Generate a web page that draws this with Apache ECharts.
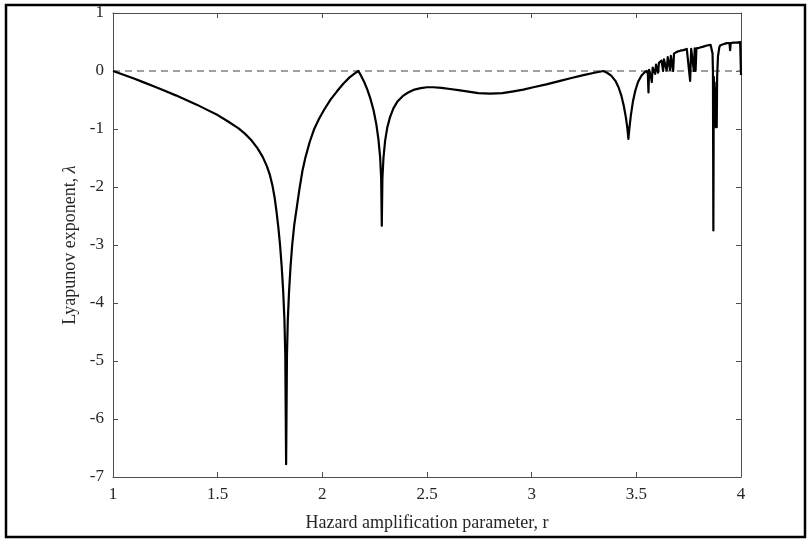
<!DOCTYPE html>
<html>
<head>
<meta charset="utf-8">
<script src="https://cdn.jsdelivr.net/npm/echarts@6/dist/echarts.min.js"></script>
<style>
  html, body { margin: 0; padding: 0; background: #fff; }
  #chart { width: 810px; height: 540px; }
</style>
</head>
<body>
<div id="chart"></div>
<script>
// r values (hazard amplification parameter)
const rVals = [
  1.000, 1.050, 1.100, 1.150, 1.200, 1.250, 1.300, 1.350, 1.400, 1.450,
  1.500, 1.550, 1.600, 1.630, 1.660, 1.690, 1.715, 1.735, 1.750, 1.762,
  1.772, 1.781, 1.790, 1.798, 1.806, 1.813, 1.819, 1.823, 1.827, 1.831,
  1.835, 1.841, 1.848, 1.856, 1.866, 1.878, 1.890, 1.905, 1.920, 1.940,
  1.960, 1.985, 2.010, 2.040, 2.070, 2.100, 2.130, 2.155, 2.172,
  2.185, 2.200, 2.215, 2.230, 2.245, 2.258, 2.268, 2.276, 2.281, 2.284,
  2.287, 2.292, 2.300, 2.310, 2.323, 2.340, 2.360, 2.385, 2.410, 2.440,
  2.470, 2.500, 2.530, 2.570, 2.610, 2.650, 2.690, 2.745, 2.801, 2.860,
  2.913, 2.960, 3.008, 3.070, 3.136, 3.190, 3.247, 3.300, 3.343,
  3.360, 3.380, 3.400, 3.415, 3.428, 3.440, 3.450, 3.457, 3.462, 3.467,
  3.474, 3.484, 3.495, 3.508, 3.524, 3.540, 3.550,
  3.555, 3.558, 3.561, 3.566, 3.570, 3.574, 3.578, 3.585, 3.590, 3.594,
  3.600, 3.604, 3.608, 3.615, 3.620, 3.628, 3.632, 3.638, 3.645, 3.650,
  3.655, 3.661, 3.665, 3.670, 3.676, 3.680, 3.693, 3.710, 3.725, 3.741,
  3.750, 3.757, 3.762, 3.771, 3.775, 3.779, 3.783, 3.787, 3.800, 3.820,
  3.837, 3.855, 3.860, 3.864, 3.866, 3.868, 3.870, 3.872, 3.874, 3.876,
  3.878, 3.880, 3.882, 3.884, 3.886, 3.890, 3.896, 3.900, 3.915, 3.932,
  3.945, 3.948, 3.951, 3.964, 3.980, 3.996, 3.999, 4.000
];

// Lyapunov exponent values, one per r value above
const lambdaVals = [
  0.00, -0.065, -0.13, -0.20, -0.27, -0.345, -0.42, -0.50, -0.58, -0.67,
  -0.76, -0.87, -0.99, -1.08, -1.19, -1.33, -1.48, -1.64, -1.80, -1.98,
  -2.18, -2.42, -2.70, -3.00, -3.38, -3.80, -4.30, -4.90, -6.78, -4.90,
  -4.30, -3.80, -3.38, -3.00, -2.65, -2.35, -2.05, -1.72, -1.48, -1.22,
  -1.01, -0.82, -0.66, -0.49, -0.35, -0.22, -0.11, -0.04, 0.00,
  -0.08, -0.19, -0.32, -0.48, -0.68, -0.92, -1.18, -1.48, -1.85, -2.67,
  -1.85, -1.50, -1.20, -0.98, -0.80, -0.64, -0.52, -0.43, -0.37, -0.32,
  -0.295, -0.28, -0.28, -0.29, -0.31, -0.33, -0.35, -0.38, -0.39, -0.38,
  -0.35, -0.32, -0.28, -0.23, -0.17, -0.12, -0.07, -0.03, 0.00,
  -0.03, -0.08, -0.17, -0.28, -0.42, -0.60, -0.80, -0.98, -1.17, -0.98,
  -0.76, -0.52, -0.34, -0.19, -0.08, -0.02, 0.00,
  -0.05, -0.37, 0.02, 0.04, -0.10, -0.19, 0.06, 0.09, -0.05, 0.11,
  0.13, -0.03, 0.14, 0.16, 0.18, 0.00, 0.20, 0.22, 0.01, 0.24,
  0.25, 0.02, 0.26, 0.28, 0.00, 0.30, 0.33, 0.35, 0.36, 0.38,
  0.38, -0.17, 0.38, 0.39, 0.00, 0.39, 0.00, 0.39, 0.40, 0.42,
  0.44, 0.45, 0.43, 0.30, 0.00, -2.75, -0.10, -0.50, -0.20, -0.70,
  -0.30, -0.97, -0.40, -0.97, -0.10, 0.25, 0.40, 0.44, 0.46, 0.48,
  0.48, 0.36, 0.48, 0.49, 0.49, 0.50, 0.48, -0.07
];

const xTicks = [1, 1.5, 2, 2.5, 3, 3.5, 4];
const yTicks = [-7, -6, -5, -4, -3, -2, -1, 0, 1];

const curve = rVals.map((r, i) => [r, lambdaVals[i]]);
const zeroLine = [[xTicks[0], 0], [xTicks[xTicks.length - 1], 0]];

const fontFamily = '"Liberation Serif", "DejaVu Serif", serif';
const axisColor = '#4d4d4d';

const chart = echarts.init(document.getElementById('chart'));

function axisBase(pos, showLabel) {
  return {
    position: pos,
    axisLine: { show: true, onZero: false, lineStyle: { color: axisColor, width: 1 } },
    axisTick: { show: true, inside: true, length: 5, lineStyle: { color: axisColor, width: 1 } },
    axisLabel: {
      show: showLabel,
      color: '#262626',
      fontFamily: fontFamily,
      fontSize: 17,
      margin: 9
    },
    splitLine: { show: false }
  };
}

chart.setOption({
  animation: false,
  backgroundColor: '#fff',
  grid: { left: 113, right: 69, top: 13, bottom: 63, containLabel: false },
  graphic: [{
    type: 'rect',
    shape: { x: 6, y: 5, width: 799, height: 532 },
    style: { fill: 'none', stroke: '#000', lineWidth: 2.5 },
    silent: true
  }],
  xAxis: [
    Object.assign(axisBase('bottom', true), {
      type: 'value',
      min: xTicks[0], max: xTicks[xTicks.length - 1], interval: 0.5,
      name: 'Hazard amplification parameter, r',
      nameLocation: 'middle',
      nameGap: 37,
      nameTextStyle: { color: '#262626', fontFamily: fontFamily, fontSize: 18 }
    }),
    Object.assign(axisBase('top', false), {
      type: 'value',
      min: xTicks[0], max: xTicks[xTicks.length - 1], interval: 0.5
    })
  ],
  yAxis: [
    Object.assign(axisBase('left', true), {
      type: 'value',
      min: yTicks[0], max: yTicks[yTicks.length - 1], interval: 1,
      name: '{n|Lyapunov exponent, }{l|λ}',
      nameLocation: 'middle',
      nameGap: 31,
      nameTextStyle: {
        color: '#262626', fontFamily: fontFamily, fontSize: 18,
        rich: {
          n: { fontFamily: fontFamily, fontSize: 18, color: '#262626' },
          l: { fontFamily: fontFamily, fontSize: 18, fontStyle: 'italic', color: '#262626' }
        }
      }
    }),
    Object.assign(axisBase('right', false), {
      type: 'value',
      min: yTicks[0], max: yTicks[yTicks.length - 1], interval: 1
    })
  ],
  series: [
    {
      type: 'line',
      data: zeroLine,
      symbol: 'none',
      lineStyle: { color: '#808080', width: 1.3, type: [7, 5] },
      z: 1
    },
    {
      type: 'line',
      data: curve,
      symbol: 'none',
      lineStyle: { color: '#000', width: 2.2, join: 'round' },
      z: 2
    }
  ]
});
</script>
</body>
</html>
